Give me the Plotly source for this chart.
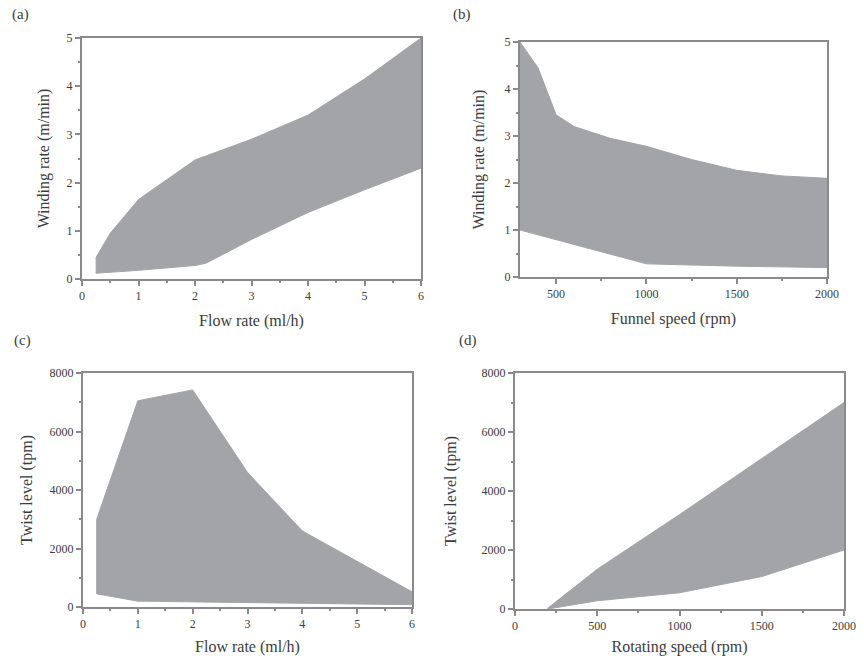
import plotly.graph_objects as go

# ---------------- data ----------------
# (a) winding rate vs flow rate
a_x_upper = [0.25, 0.5, 1, 2, 3, 4, 5, 6]
a_y_upper = [0.45, 0.95, 1.65, 2.47, 2.9, 3.4, 4.15, 5.0]
a_x_lower = [0.25, 1, 2, 2.2, 3, 4, 5, 6]
a_y_lower = [0.12, 0.18, 0.28, 0.33, 0.82, 1.38, 1.85, 2.3]

# (b) winding rate vs funnel speed
b_x_upper = [300, 400, 500, 600, 800, 1000, 1250, 1500, 1750, 2000]
b_y_upper = [5.0, 4.45, 3.45, 3.2, 2.95, 2.78, 2.5, 2.27, 2.15, 2.1]
b_x_lower = [300, 450, 1000, 1500, 2000]
b_y_lower = [1.0, 0.85, 0.28, 0.23, 0.2]

# (c) twist level vs flow rate
c_x_upper = [0.25, 1, 2, 3, 4, 5, 6]
c_y_upper = [3000, 7050, 7420, 4600, 2600, 1550, 520]
c_x_lower = [0.25, 1, 2, 3, 4, 5, 6]
c_y_lower = [450, 200, 160, 140, 120, 100, 80]

# (d) twist level vs rotating speed
d_x_upper = [200, 500, 1000, 1500, 2000]
d_y_upper = [30, 1350, 3200, 5100, 7000]
d_x_lower = [200, 500, 1000, 1500, 2000]
d_y_lower = [0, 280, 550, 1100, 2000]

panel_labels = ["(a)", "(b)", "(c)", "(d)"]
x_titles = ["Flow rate (ml/h)", "Funnel speed (rpm)", "Flow rate (ml/h)", "Rotating speed (rpm)"]
y_titles = ["Winding rate (m/min)", "Winding rate (m/min)", "Twist level (tpm)", "Twist level (tpm)"]

# ---------------- style ----------------
W, H = 864, 656
FILL = "#a3a4a8"
LINE = "#8a8a8a"
TXT = "#3c3c3c"
FONT = "Liberation Serif"

def px_x(a, b):
    return [a / W, b / W]

def px_y(top, bottom):
    return [1 - bottom / H, 1 - top / H]

domains = [
    (px_x(82, 421), px_y(38, 279)),
    (px_x(520, 827), px_y(42, 277)),
    (px_x(83, 412), px_y(373, 607)),
    (px_x(515, 844), px_y(373, 609)),
]

series = [
    (a_x_upper, a_y_upper, a_x_lower, a_y_lower),
    (b_x_upper, b_y_upper, b_x_lower, b_y_lower),
    (c_x_upper, c_y_upper, c_x_lower, c_y_lower),
    (d_x_upper, d_y_upper, d_x_lower, d_y_lower),
]

xranges = [[0, 6], [300, 2000], [0, 6], [0, 2000]]
yranges = [[0, 5], [0, 5], [0, 8000], [0, 8000]]
xdticks = [1, 500, 1, 500]
ydticks = [1, 1, 2000, 2000]
y_standoff = [13, 16, 13, 21]
x_standoff = [12, 12, 12, 12]

fig = go.Figure()

for i, (xu, yu, xl, yl) in enumerate(series):
    n = "" if i == 0 else str(i + 1)
    xs = list(xu) + list(reversed(xl)) + [xu[0]]
    ys = list(yu) + list(reversed(yl)) + [yu[0]]
    fig.add_trace(go.Scatter(
        x=xs, y=ys, mode="lines", fill="toself",
        fillcolor=FILL, line=dict(color=FILL, width=1),
        xaxis="x" + n, yaxis="y" + n, showlegend=False, hoverinfo="skip",
    ))
    xd, yd = domains[i]
    common = dict(
        showgrid=False, zeroline=False, showline=True, mirror=True,
        linecolor=LINE, linewidth=2, ticks="outside", ticklen=5,
        tickcolor=LINE, tickwidth=1.5, automargin=False,
        tickfont=dict(family=FONT, size=12, color=TXT),
        title_font=dict(family=FONT, size=16, color=TXT),
    )
    fig.layout["xaxis" + n] = dict(
        common, domain=xd, anchor="y" + n, range=xranges[i],
        tick0=0, dtick=xdticks[i],
        minor=dict(ticks="outside", ticklen=2, tickcolor=LINE, dtick=xdticks[i] / 2),
        title=dict(text=x_titles[i], standoff=x_standoff[i]),
    )
    fig.layout["yaxis" + n] = dict(
        common, domain=yd, anchor="x" + n, range=yranges[i],
        dtick=ydticks[i],
        minor=dict(ticks="outside", ticklen=2, tickcolor=LINE, dtick=ydticks[i] / 2),
        title=dict(text=y_titles[i], standoff=y_standoff[i]),
    )

label_pos = [(20, 15), (462, 15), (22, 340), (468, 340)]
for lab, (lx, ly) in zip(panel_labels, label_pos):
    fig.add_annotation(
        text=lab, x=lx / W, y=1 - ly / H, xref="paper", yref="paper",
        showarrow=False, font=dict(family=FONT, size=15, color=TXT),
        xanchor="center", yanchor="middle",
    )

fig.update_layout(
    width=W, height=H, margin=dict(l=0, r=0, t=0, b=0),
    paper_bgcolor="white", plot_bgcolor="white",
    font=dict(family=FONT, color=TXT),
)

fig.write_html(
    "out.html",
    config={"displayModeBar": False},
    post_script="document.body.style.margin='0';document.body.style.overflow='hidden';",
)
